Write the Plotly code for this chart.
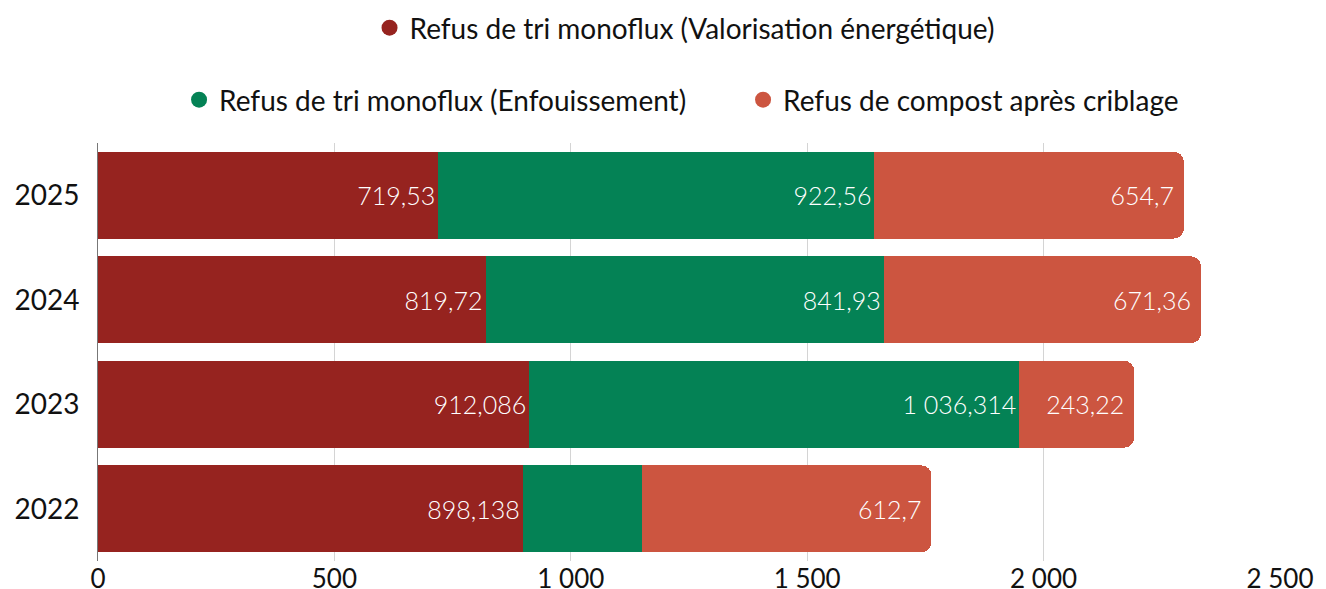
import plotly.graph_objects as go

years = ["2022", "2023", "2024", "2025"]
valorisation = [898.138, 912.086, 819.72, 719.53]
enfouissement = [252.0, 1036.314, 841.93, 922.56]
compost = [612.7, 243.22, 671.36, 654.7]
enfouissement_label_shown = [False, True, True, True]

names = [
    "Refus de tri monoflux (Valorisation énergétique)",
    "Refus de tri monoflux (Enfouissement)",
    "Refus de compost après criblage",
]
colors = ["#96231f", "#048255", "#cc5540"]
x_ticks = [0, 500, 1000, 1500, 2000, 2500]


def fr(v):
    return f"{v:,}".replace(",", " ").replace(".", ",")


def labels(vals, shown=None):
    shown = shown or [True] * len(vals)
    return [fr(v) if s else "" for v, s in zip(vals, shown)]


FONT = "Lato"
fig = go.Figure()
series = [
    (valorisation, labels(valorisation)),
    (enfouissement, labels(enfouissement, enfouissement_label_shown)),
    (compost, labels(compost)),
]
for (vals, txt), name, col in zip(series, names, colors):
    fig.add_trace(go.Bar(
        y=years, x=vals, orientation="h", name=name,
        marker=dict(color=col, line=dict(width=0)),
        text=txt, textposition="inside", insidetextanchor="end",
        textfont=dict(color="white", size=25, family=FONT, weight=300),
        showlegend=False, hoverinfo="x+name",
    ))

for i, (name, col) in enumerate(zip(names, colors)):
    fig.add_trace(go.Scatter(
        x=[None], y=[None], mode="markers", name=name,
        marker=dict(symbol="circle", size=16, color=col),
        legend="legend" if i == 0 else "legend2",
    ))

fig.update_layout(
    width=1318, height=581,
    barmode="stack", bargap=0.17, barcornerradius=10,
    separators=", ",
    paper_bgcolor="white", plot_bgcolor="white",
    margin=dict(l=90, r=46, t=135, b=28),
    font=dict(family=FONT, color="#111111"),
    legend=dict(orientation="h", x=0.5133, xanchor="center", xref="container",
                y=0.9656, yanchor="middle", yref="container",
                font=dict(size=28, family=FONT), bgcolor="rgba(0,0,0,0)"),
    legend2=dict(orientation="h", x=0.5577, xanchor="center", xref="container",
                 y=0.8417, yanchor="middle", yref="container",
                 entrywidth=519, entrywidthmode="pixels",
                 font=dict(size=28, family=FONT), bgcolor="rgba(0,0,0,0)"),
    xaxis=dict(range=[0, 2500], tickvals=x_ticks, tickformat=",", showgrid=True,
               gridcolor="#d4d4d4", gridwidth=1, zeroline=False, showline=False,
               automargin=False,
               tickfont=dict(size=26, family=FONT, color="#111111")),
    yaxis=dict(type="category", showline=True, linecolor="#777777", linewidth=1,
               showgrid=False, ticks="", ticklabelstandoff=12, automargin=False,
               tickfont=dict(size=28, family=FONT, color="#111111")),
)

fig.write_html("out.html")
